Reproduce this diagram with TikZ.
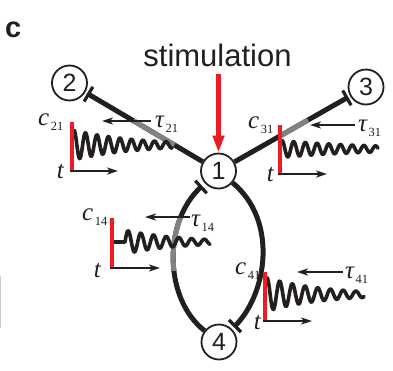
\documentclass[tikz,border=0pt]{standalone}
\usepackage{fontspec}
\setmainfont{Liberation Serif}
\newfontfamily\sansfam{Liberation Sans}
\usetikzlibrary{arrows.meta,calc}
\definecolor{ink}{RGB}{35,31,32}
\definecolor{midgray}{RGB}{128,130,133}
\definecolor{stimred}{RGB}{237,28,36}
\newcommand\varlab[2]{\fontsize{25}{25}\selectfont\itshape #1\kern1.5pt\raisebox{-5.5pt}{\upshape\fontsize{12.5}{12.5}\selectfont #2}}
\begin{document}
\begin{tikzpicture}[x=1pt,y=-1pt,
 digit/.style={circle, draw=ink, line width=1.8pt, minimum size=35pt, inner sep=0pt, font=\sansfam\fontsize{25}{25}\selectfont, text=ink},
 edge/.style={draw=ink, line width=5pt},
 grayseg/.style={draw=midgray, line width=5pt},
 tbar/.style={draw=ink, line width=3.2pt},
 caxis/.style={draw=stimred, line width=3.3pt},
 taxis/.style={draw=ink, line width=2.8pt, -{Stealth[length=11pt,width=7pt,inset=3pt]}},
 tauarrow/.style={draw=ink, line width=2.4pt, -{Stealth[length=11pt,width=7pt,inset=3pt]}},
 wave/.style={draw=ink, line width=3.6pt, line join=round, line cap=round},
 lab/.style={anchor=base west, inner sep=0pt, text=ink},
 tlab/.style={anchor=base east, inner sep=0pt, font=\fontsize{25}{25}\selectfont\itshape, text=ink},
 stimarrow/.style={draw=stimred, line width=4.5pt, -{Triangle[length=17pt,width=11pt]}}
]
\useasboundingbox (0,0) rectangle (393,370);

% faint mark at left border
\draw[draw=black!20, line width=1pt] (0.5,276) -- (0.5,328);

% panel letter and stimulation
\node[font=\sansfam\bfseries\fontsize{29}{29}\selectfont, anchor=base west, inner sep=0pt, text=ink] (panel) at (5,37) {c};
\node[font=\sansfam\fontsize{31}{31}\selectfont, anchor=base, inner sep=0pt, text=ink] (stim) at (217.5,66) {stimulation};

% nodes
\node[digit] (n1) at (218.5,171) {1};
\node[digit] (n2) at (69.5,83) {2};
\node[digit] (n3) at (366,87) {3};
\node[digit] (n4) at (219,342) {4};

% stimulation arrow
\coordinate (sa) at (218.5,74);
\draw[stimarrow] (sa) -- (n1);

% edge 1 -> 2
\coordinate (b2) at ($(n2)!22pt!(n1)$);
\draw[edge] (n1) -- (b2);
\draw[tbar] ($(b2)!8.5pt!90:(n1)$) -- ($(b2)!8.5pt!-90:(n1)$);
\draw[grayseg] ($(n1)!0.296!(n2)$) -- ($(n1)!0.572!(n2)$);

% edge 1 -> 3
\coordinate (b3) at ($(n3)!22pt!(n1)$);
\draw[edge] (n1) -- (b3);
\draw[tbar] ($(b3)!8.5pt!90:(n1)$) -- ($(b3)!8.5pt!-90:(n1)$);
\draw[grayseg] ($(n1)!0.417!(n3)$) -- ($(n1)!0.607!(n3)$);

% edge 4 -> 1 (left arc)
\coordinate (b14) at (201,187);
\draw[edge] (b14) .. controls (162.5,222) and (164,299) .. (n4);
\draw[tbar] ($(b14)!8.5pt!90:(n1)$) -- ($(b14)!8.5pt!-90:(n1)$);
\begin{scope}
\clip (140,217) rectangle (200,270);
\draw[grayseg] (b14) .. controls (162.5,222) and (164,299) .. (n4);
\end{scope}

% edge 1 -> 4 (right arc)
\coordinate (b41) at (235,326);
\draw[edge] (n1) .. controls (278.6,221) and (266.8,294.2) .. (b41);
\draw[tbar] ($(b41)!8.5pt!90:(n4)$) -- ($(b41)!8.5pt!-90:(n4)$);

% ---- panel 21
\draw[wave] plot[domain=74:172, samples=160, smooth] (\x, {145 - 15*exp(-0.0164*(\x-74))*cos(31.304*(\x-74))});
\draw[caxis] (72,122) -- (72,171);
\draw[taxis] (70.4,171) -- (118,171);
\draw[tauarrow] (151,121) -- (102,121);
\node[lab] (c21) at (38,125) {\varlab{c}{21}};
\node[lab] (tau21) at (155,127) {\varlab{τ}{21}};
\node[tlab] (t21) at (64,178) {t};

% ---- panel 31
\draw[wave] plot[domain=282:378, samples=160, smooth] (\x, {149 - 8.5*exp(-0.0107*(\x-282))*cos(30.769*(\x-282))});
\draw[caxis] (280,125) -- (280,174);
\draw[taxis] (278.4,174) -- (327,174);
\draw[tauarrow] (355,125) -- (310,125);
\node[lab] (c31) at (248,128) {\varlab{c}{31}};
\node[lab] (tau31) at (358,131) {\varlab{τ}{31}};
\node[tlab] (t31) at (274,181) {t};

% ---- panel 14
\draw[wave] (112,242) -- (125,242) -- plot[domain=125:210, samples=140, smooth] (\x, {242 - 12*exp(-0.0185*(\x-125))*sin(28.346*(\x-125))});
\draw[caxis] (112,218) -- (112,268);
\draw[taxis] (110.4,268) -- (160,268);
\draw[tauarrow] (190,217) -- (145,217);
\node[lab] (c14) at (82,220) {\varlab{c}{14}};
\node[lab] (tau14) at (191,226) {\varlab{τ}{14}};
\node[tlab] (t14) at (101,277) {t};

% ---- panel 41
\draw[wave] plot[domain=267:364, samples=160, smooth] (\x, {294.5 - 17*exp(-0.018*(\x-267))*cos(28.346*(\x-267))});
\draw[caxis] (265,272) -- (265,321);
\draw[taxis] (263.4,321) -- (312,321);
\draw[tauarrow] (343,272) -- (297,272);
\node[lab] (c41) at (235,274) {\varlab{c}{41}};
\node[lab] (tau41) at (345,278) {\varlab{τ}{41}};
\node[tlab] (t41) at (261,329) {t};
\end{tikzpicture}
\end{document}
